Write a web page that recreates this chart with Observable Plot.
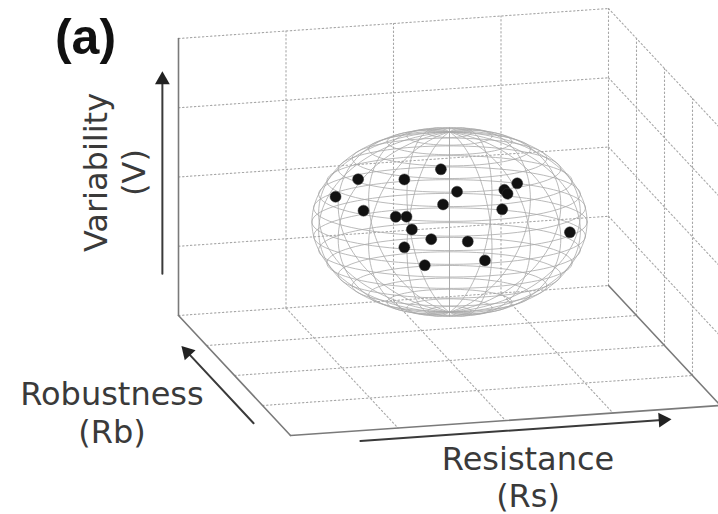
<!DOCTYPE html>
<html><head><meta charset="utf-8">
<script src="https://cdn.jsdelivr.net/npm/d3@7"></script>
<script src="https://cdn.jsdelivr.net/npm/@observablehq/plot@0.6"></script>
<style>html,body{margin:0;padding:0;background:#fff;} #chart{width:718px;height:514px;overflow:hidden;}</style>
</head><body><div id="chart"></div>
<script>
// ---- data ----
const panelLabel = "(a)";
const axisNames = ["Resistance", "Robustness", "Variability"];
const axisSymbols = ["(Rs)", "(Rb)", "(V)"];
const gridTicks = [0, 1, 2, 3, 4];
// observed populations (Rs, Rb, V)
const pointRs = [0.94, 1.15, 1.20, 1.58, 1.92, 2.07, 1.94, 1.50, 1.60, 1.65, 1.58, 1.83, 1.77, 2.17, 2.33, 2.49, 2.51, 2.54, 2.63, 3.12];
const pointV  = [2.48, 2.71, 2.25, 2.66, 2.77, 2.43, 2.26, 2.13, 2.12, 1.93, 1.68, 1.77, 1.40, 1.70, 1.41, 2.13, 2.41, 2.35, 2.49, 1.73];
const pointRb = [2, 2, 2, 2, 2, 2, 2, 2, 2, 2, 2, 2, 2, 2, 2, 2, 2, 2, 2, 2];
// ellipsoid (Rs, Rb, V)
const ellipsoidCenter = [2, 2, 2];
const ellipsoidRadius = [1.28, 1.28, 1.33];
// axis arrows (Rs, Rb, V)
const arrowFrom = [[0.65, 4, -0.15], [-0.2, 3.45, -0.04], [-0.15, 0, 0.62]];
const arrowTo   = [[3.53, 4, -0.15], [-0.2, 0.91, -0.04], [-0.15, 0, 3.52]];

// ---- oblique projection of the 3-D box ----
const P = {rsX: 107.5, rbX: 28, vY: 69.25, rsY: 7.5, rbY: -30};
function proj(rs, rb, v) { return {X: rs * P.rsX + rb * P.rbX, Y: v * P.vY + rs * P.rsY + rb * P.rbY}; }

const lo = gridTicks[0], hi = gridTicks[gridTicks.length - 1];
const inner = gridTicks.slice(1, -1);
const dotted = [], solid = [];
function seg(arr, id, a, b) { const p = proj(...a), q = proj(...b); arr.push({id, ...p}, {id, ...q}); }
// back wall (rb = lo)
gridTicks.forEach(t => { if (t !== lo) seg(dotted, "bv" + t, [t, lo, lo], [t, lo, hi]); });
gridTicks.forEach(t => seg(dotted, "bh" + t, [lo, lo, t], [hi, lo, t]));
// floor (v = lo)
inner.forEach(t => seg(dotted, "fr" + t, [t, lo, lo], [t, hi, lo]));
inner.forEach(t => seg(dotted, "fs" + t, [lo, t, lo], [hi, t, lo]));
// right wall (rs = hi)
gridTicks.forEach(t => { if (t !== lo) seg(dotted, "rv" + t, [hi, t, lo], [hi, t, hi]); });
gridTicks.forEach(t => { if (t !== lo) seg(dotted, "rd" + t, [hi, lo, t], [hi, hi, t]); });
// solid edges
seg(solid, "e1", [lo, lo, lo], [lo, lo, hi]);
seg(solid, "e2", [lo, lo, lo], [lo, hi, lo]);
seg(solid, "e3", [lo, hi, lo], [hi, hi, lo]);
seg(solid, "e4", [hi, lo, lo], [hi, hi, lo]);

// ellipsoid wireframe (viewed slightly from above)
const c0 = proj(...ellipsoidCenter);
const A = ellipsoidRadius[0] * P.rsX, B = A * ellipsoidRadius[1] / ellipsoidRadius[0], C = ellipsoidRadius[2] * P.vY;
const tilt = 12 * Math.PI / 180;
function ell(phi, th) {
  return {X: c0.X + A * Math.cos(phi) * Math.cos(th),
          Y: c0.Y + C * Math.sin(phi) * Math.cos(tilt) + B * Math.cos(phi) * Math.sin(th) * Math.sin(tilt)};
}
const wire = [];
const rad = Math.PI / 180;
for (let k = 1; k < 20; k++) {
  const phi = (-90 + 9 * k) * rad;
  for (let d = 0; d <= 360; d += 4) wire.push({id: "p" + k, ...ell(phi, d * rad)});
}
for (let j = 0; j < 20; j++) {
  const th = 18 * j * rad;
  for (let d = -90; d <= 90; d += 3) wire.push({id: "m" + j, ...ell(d * rad, th)});
}

const points = pointRs.map((rs, i) => proj(rs, pointRb[i], pointV[i]));

// arrows
const arrowLines = [], arrowHeads = [];
arrowFrom.forEach((f, i) => {
  const a = proj(...f), b = proj(...arrowTo[i]);
  const dx = b.X - a.X, dy = b.Y - a.Y, L = Math.hypot(dx, dy);
  const ux = dx / L, uy = dy / L;
  arrowLines.push({id: i, X: a.X, Y: a.Y}, {id: i, X: b.X - ux * 8, Y: b.Y - uy * 8});
  arrowHeads.push({X: b.X - ux * 7, Y: b.Y - uy * 7, rot: Math.atan2(dx, dy) * 180 / Math.PI});
});

// axis titles
const titleAnchors = [[2.21, 4, -0.83], [-1.14, 2, -0.40], [-0.60, 0, 2.13]];
const titles = axisNames.map((n, i) => ({text: n + "\n" + axisSymbols[i], rot: i === 2 ? -90 : 0, ...proj(...titleAnchors[i])}));

const chart = Plot.plot({
  width: 718, height: 514, margin: 0,
  x: {domain: [-178, 540], range: [0, 718], axis: null},
  y: {domain: [-199, 315], range: [514, 0], axis: null},
  marks: [
    Plot.line(dotted, {x: "X", y: "Y", z: "id", stroke: "#a8a8a8", strokeWidth: 1.1, strokeDasharray: "1.5,2.5"}),
    Plot.line(solid, {x: "X", y: "Y", z: "id", stroke: "#7a7a7a", strokeWidth: 1.6}),
    Plot.line(wire, {x: "X", y: "Y", z: "id", stroke: "#a8a8a8", strokeWidth: 0.8}),
    Plot.dot(points, {x: "X", y: "Y", r: 5.5, fill: "#111", stroke: "#333", strokeWidth: 0.5}),
    Plot.line(arrowLines, {x: "X", y: "Y", z: "id", stroke: "#3a3a3a", strokeWidth: 2}),
    Plot.dot(arrowHeads, {x: "X", y: "Y", symbol: "triangle", r: 5.5, fill: "#222", rotate: "rot"}),
    Plot.text(titles, {x: "X", y: "Y", text: "text", rotate: "rot", fontSize: 32, lineHeight: 1.18, fontFamily: "DejaVu Sans", fill: "#3a3a3a", textAnchor: "middle", lineAnchor: "middle"}),
    Plot.text([panelLabel], {frameAnchor: "top-left", dx: 85, dy: 37, text: d => d, fontSize: 50, fontWeight: "bold", fontFamily: "Liberation Sans", fill: "#111", textAnchor: "middle", lineAnchor: "middle"})
  ]
});
document.getElementById("chart").appendChild(chart);
</script>
</body></html>
